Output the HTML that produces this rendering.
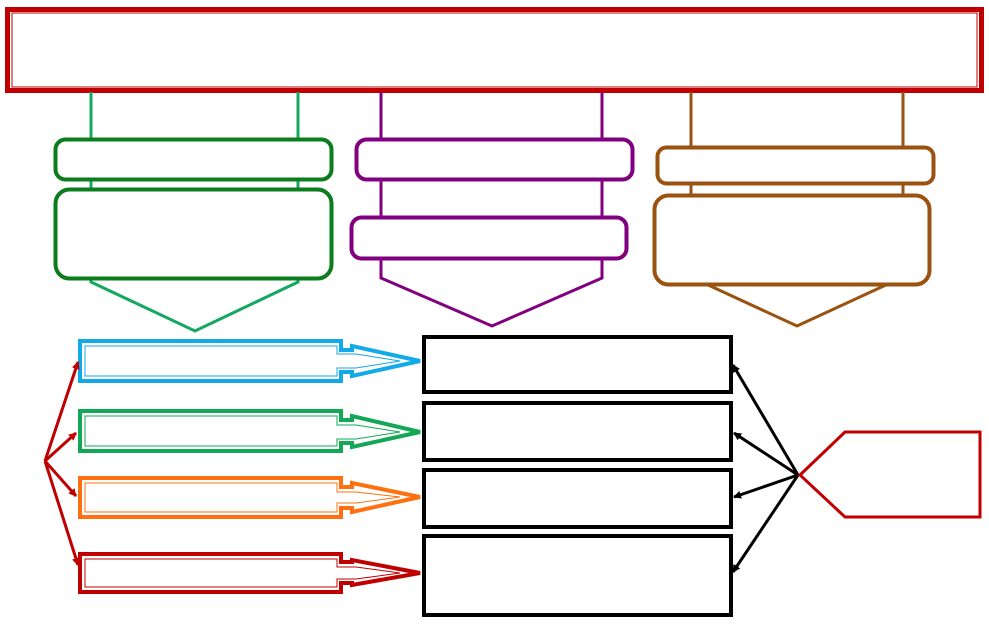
<!DOCTYPE html>
<html><head><style>html,body{margin:0;padding:0;background:#fff;width:989px;height:627px;overflow:hidden}</style></head>
<body>
<svg width="989" height="627" viewBox="0 0 989 627" xmlns="http://www.w3.org/2000/svg">
<defs>
<marker id="ar" markerWidth="8" markerHeight="8" refX="7" refY="4" orient="auto" markerUnits="userSpaceOnUse"><path d="M0,0 L8,4 L0,8 Z" fill="#c00000"/></marker>
<marker id="ab" markerWidth="8" markerHeight="8" refX="7" refY="4" orient="auto" markerUnits="userSpaceOnUse"><path d="M0,0 L8,4 L0,8 Z" fill="#000"/></marker>
</defs>
<!-- top box -->
<rect x="7.5" y="9.5" width="974" height="81" fill="none" stroke="#c00000" stroke-width="5"/>
<rect x="12" y="13" width="965" height="74" fill="none" stroke="#c00000" stroke-width="1"/>
<!-- green -->
<g fill="none" stroke-width="3">
<path d="M91,92V140M298,92V140M91,179V190M298,179V190" stroke="#14a860"/>
<path d="M91,278L91,282L195,331L298,282L298,278" stroke="#14a860"/>
<rect x="55.5" y="139.5" width="276" height="40" rx="10" stroke="#0b7d1c" stroke-width="4"/>
<rect x="55.5" y="189.5" width="276" height="89" rx="14" stroke="#0b7d1c" stroke-width="4"/>
<!-- purple -->
<path d="M381,92V140M602,92V140M381,179V218M602,179V218M381,258L381,278L492,326L602,278L602,258" stroke="#800080"/>
<rect x="356.5" y="139.5" width="276" height="40" rx="10" stroke="#800080" stroke-width="4"/>
<rect x="351.5" y="217.5" width="275" height="41" rx="10" stroke="#800080" stroke-width="4"/>
<!-- brown -->
<path d="M691,92V148M903,92V148M691,183V196M903,183V196M706,284L797,326L888,284" stroke="#9a5210"/>
<rect x="657.5" y="147.5" width="276" height="36" rx="9" stroke="#9a5210" stroke-width="4"/>
<rect x="654.5" y="195.5" width="275" height="89" rx="14" stroke="#9a5210" stroke-width="4"/>
</g>
<!-- arrow boxes -->
<g fill="none">
<g stroke="#12aae6"><path d="M80,341H341V350H352V346L420,361L352,376V372H341V381H80Z" stroke-width="4"/><path d="M85,346H337V354H356L400,361L356,368H337V376H85Z" stroke-width="1"/></g>
<g stroke="#12a855"><path d="M80,411H341V420H352V416L420,432L352,447V443H341V451H80Z" stroke-width="4"/><path d="M85,416H337V425H356L400,432L356,439H337V446H85Z" stroke-width="1"/></g>
<g stroke="#ff7010"><path d="M80,478H341V487H352V483L420,497L352,512V508H341V517H80Z" stroke-width="4"/><path d="M85,483H337V492H356L400,497L356,503H337V512H85Z" stroke-width="1"/></g>
<g stroke="#c00000"><path d="M80,554H341V562H352V560L420,573L352,585V583H341V592H80Z" stroke-width="4"/><path d="M85,559H337V567H356L400,573L356,579H337V587H85Z" stroke-width="1"/></g>
</g>
<!-- red arrows -->
<g stroke="#c00000" stroke-width="3" fill="none">
<line x1="45" y1="461" x2="78" y2="362" marker-end="url(#ar)"/>
<line x1="45" y1="461" x2="76" y2="433" marker-end="url(#ar)"/>
<line x1="45" y1="461" x2="76" y2="496" marker-end="url(#ar)"/>
<line x1="45" y1="461" x2="78" y2="565" marker-end="url(#ar)"/>
</g>
<!-- table -->
<g stroke="#000" stroke-width="4" fill="none">
<rect x="424" y="337" width="307" height="55"/>
<rect x="424" y="403" width="307" height="57"/>
<rect x="424" y="470" width="307" height="57"/>
<rect x="424" y="536" width="307" height="79"/>
</g>
<!-- black arrows -->
<g stroke="#000" stroke-width="3" fill="none">
<line x1="798" y1="475" x2="733" y2="365" marker-end="url(#ab)"/>
<line x1="798" y1="475" x2="734" y2="433" marker-end="url(#ab)"/>
<line x1="798" y1="475" x2="734" y2="497" marker-end="url(#ab)"/>
<line x1="798" y1="475" x2="733" y2="572" marker-end="url(#ab)"/>
</g>
<path d="M800,475L845,432H980V517H845Z" fill="none" stroke="#c00000" stroke-width="3"/>
</svg>
</body></html>
